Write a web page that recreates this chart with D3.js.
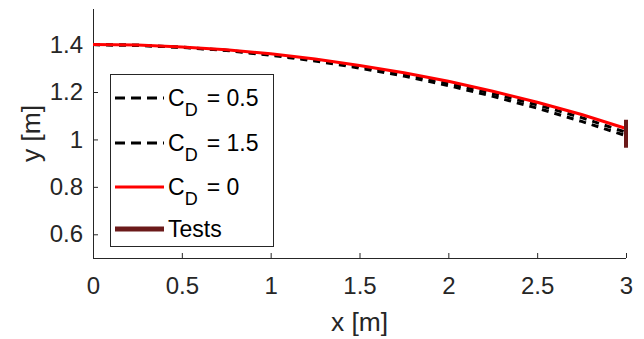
<!DOCTYPE html>
<html><head><meta charset="utf-8">
<script src="https://cdn.jsdelivr.net/npm/d3@7"></script>
<style>body{margin:0;background:#fff}svg{display:block}text{font-family:"Liberation Sans",Arial,sans-serif}</style>
</head><body><svg id="c" width="644" height="339"></svg>
<script>
const xs = [0,0.25,0.5,0.75,1,1.25,1.5,1.75,2,2.25,2.5,2.75,3];
const yCD0 = [1.400,1.398,1.390,1.378,1.361,1.339,1.312,1.281,1.245,1.203,1.157,1.105,1.046];
const yCD05 = [1.400,1.397,1.389,1.376,1.358,1.335,1.307,1.275,1.237,1.194,1.146,1.092,1.030];
const yCD15 = [1.400,1.397,1.388,1.375,1.355,1.331,1.301,1.267,1.227,1.182,1.132,1.076,1.016];
const testX = [3];
const testLo = [0.965];
const testHi = [1.083];
const xTicks = [0,0.5,1,1.5,2,2.5,3];
const xTickLabels = ["0","0.5","1","1.5","2","2.5","3"];
const yTicks = [0.6,0.8,1.0,1.2,1.4];
const yTickLabels = ["0.6","0.8","1","1.2","1.4"];
const legendItems = [
  {sub:true, label:"= 0.5", kind:"dash"},
  {sub:true, label:"= 1.5", kind:"dash"},
  {sub:true, label:"= 0", kind:"red"},
  {sub:false, label:"Tests", kind:"test"}
];

const svg = d3.select("#c");
const L=93, R=626, T=9, B=258;
const x = d3.scaleLinear().domain([0,3]).range([L,R]);
const y = d3.scaleLinear().domain([0.5,1.55]).range([B,T]);
const axisCol = "#262626";

const xa = svg.append("g").attr("transform",`translate(0,${B})`)
  .call(d3.axisBottom(x).tickValues(xTicks).tickFormat((d,i)=>xTickLabels[i]).tickSizeInner(-5).tickSizeOuter(0).tickPadding(19));
const ya = svg.append("g").attr("transform",`translate(${L},0)`)
  .call(d3.axisLeft(y).tickValues(yTicks).tickFormat((d,i)=>yTickLabels[i]).tickSizeInner(-5).tickSizeOuter(0).tickPadding(10));
[xa,ya].forEach(g=>{
  g.select(".domain").attr("stroke",axisCol).attr("stroke-width",1);
  g.selectAll(".tick line").attr("stroke",axisCol);
  g.selectAll(".tick text").attr("fill",axisCol).attr("font-size",24);
});
ya.select(".domain").attr("d",`M0.5,${T}V${B}`);
xa.select(".domain").attr("d",`M${L},0.5H${R}`);

svg.append("text").attr("x",(L+R)/2).attr("y",331).attr("text-anchor","middle")
  .attr("font-size",26.4).attr("fill",axisCol).text("x [m]");
svg.append("text").attr("transform",`translate(40,${(T+B)/2}) rotate(-90)`).attr("text-anchor","middle")
  .attr("font-size",26.4).attr("fill",axisCol).text("y [m]");

const line = d3.line().x((d,i)=>x(xs[i])).y(d=>y(d));
svg.append("path").datum(yCD05).attr("d",line).attr("fill","none").attr("stroke","#000").attr("stroke-width",3).attr("stroke-dasharray","7,6");
svg.append("path").datum(yCD15).attr("d",line).attr("fill","none").attr("stroke","#000").attr("stroke-width",3).attr("stroke-dasharray","7,6");
svg.append("path").datum(yCD0).attr("d",line).attr("fill","none").attr("stroke","#ff0000").attr("stroke-width",3);
svg.selectAll(".test").data(testX).enter().append("line")
  .attr("x1",d=>x(d)).attr("x2",d=>x(d)).attr("y1",(d,i)=>y(testLo[i])).attr("y2",(d,i)=>y(testHi[i]))
  .attr("stroke","#6b1a1a").attr("stroke-width",4);

const lg = svg.append("g");
lg.append("rect").attr("x",110.5).attr("y",74.5).attr("width",163).attr("height",172)
  .attr("fill","#fff").attr("stroke","#262626").attr("stroke-width",1);
const rowY = [98,143,187,229];
legendItems.forEach((it,i)=>{
  const yy = rowY[i];
  const ln = lg.append("line").attr("x1",115).attr("x2",164).attr("y1",yy).attr("y2",yy).attr("stroke-width",3);
  if(it.kind==="dash") ln.attr("stroke","#000").attr("stroke-dasharray","10,6");
  else if(it.kind==="red") ln.attr("stroke","#ff0000");
  else ln.attr("stroke","#6b1a1a").attr("stroke-width",5);
  const t = lg.append("text").attr("x",168).attr("y",yy+8).attr("font-size",23).attr("fill","#000");
  if(it.sub){
    t.append("tspan").text("C");
    t.append("tspan").attr("dy",10).attr("font-size",18).text("D");
    t.append("tspan").attr("dy",-10).attr("dx",9).text(it.label);
  } else t.text(it.label);
});
</script></body></html>
